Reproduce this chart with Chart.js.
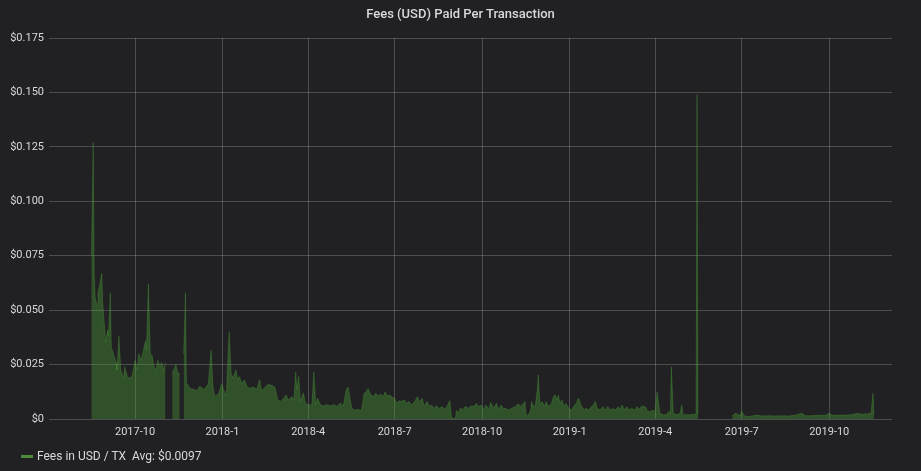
<!DOCTYPE html>
<html>
<head>
<meta charset="utf-8">
<script src="https://cdn.jsdelivr.net/npm/chart.js@4.4.1/dist/chart.umd.min.js"></script>
<style>
  html, body { margin:0; padding:0; background:#212124; }
  #wrap { position:relative; width:921px; height:471px; background:#212124; overflow:hidden; }
  #title { position:absolute; left:0; top:6px; width:921px; text-align:center; font:500 13px Roboto, sans-serif; color:#d8d9da; }
  #legend { position:absolute; left:21px; top:449px; font:12px Roboto, sans-serif; color:#d8d9da; display:flex; align-items:center; }
  #legend .sw { width:12px; height:3px; background:#4f8a3b; margin-right:4px; }
  #cv { position:absolute; left:0; top:0; }
</style>
</head>
<body>
<div id="wrap">
  <canvas id="cv" width="921" height="471"></canvas>
  <div id="title">Fees (USD) Paid Per Transaction</div>
  <div id="legend"><span class="sw"></span><span>Fees in USD / TX&nbsp;&nbsp;Avg: $0.0097</span></div>
</div>
<script>
// Day offsets relative to 2017-10-01
const days = [
  -46,-45,-44,-43,-42,-40,-39,-37,-35,-34,
  -32,-31,-29,-28,-26,-25,-22,-20,-19,-17,
  -15,-12,-11,-8,-5,-3,0,2,4,6,
  8,11,12,14,16,18,20,22,24,26,
  28,30,32,35,39,41,43,45,47,49,
  51,52,53,54,58,61,65,68,72,75,
  77,80,82,84,88,91,93,96,97,99,
  101,103,106,108,110,112,115,118,121,124,
  128,131,133,137,140,144,147,150,153,156,
  159,161,165,167,169,170,172,174,177,179,
  182,186,188,190,192,195,198,202,205,209,
  212,216,219,222,224,226,228,231,235,238,
  241,243,245,248,251,253,256,258,261,263,
  265,268,271,273,275,278,280,283,286,288,
  291,294,297,299,302,304,307,310,312,314,
  317,320,323,325,328,331,332,333,337,338,
  340,342,345,347,351,353,356,359,361,364,
  366,369,372,374,377,380,382,385,387,389,
  393,396,400,403,405,407,410,411,413,416,
  417,419,421,423,424,425,426,428,431,432,
  435,438,440,442,444,445,447,449,451,453,
  456,459,461,464,466,467,469,472,474,477,
  480,482,484,486,489,492,494,497,500,502,
  505,508,510,512,515,517,520,522,525,528,
  530,533,537,539,542,545,547,549,550,552,
  556,559,561,563,564,566,570,573,575,576,
  580,584,587,590,591,592,600,628,631,634,
  636,638,640,643,649,654,659,666,673,680,
  687,694,701,705,712,719,726,730,733,740,
  747,754,759,764,770,774,776,777
];
const fees = [
  0.075,0.099,0.127,0.067,0.056,0.052,0.058,0.062,0.067,0.053,
  0.042,0.035,0.041,0.038,0.058,0.033,0.029,0.026,0.0225,0.038,
  0.0225,0.0187,0.024,0.0194,0.0187,0.020,0.027,0.0225,0.030,0.027,
  0.030,0.036,0.032,0.062,0.030,0.029,0.024,0.0225,0.027,0.024,
  0.026,0.0225,0.026,null,0.021,0.023,0.025,0.021,0.021,null,
  0.030,0.042,0.058,0.0165,0.014,0.0137,0.013,0.015,0.0137,0.0147,
  0.0163,0.0317,0.0147,0.0103,0.0116,0.0163,0.0137,0.0103,0.0225,0.040,
  0.021,0.0187,0.0225,0.018,0.0195,0.0163,0.018,0.0147,0.014,0.0147,
  0.0137,0.018,0.013,0.0147,0.0158,0.0155,0.0147,0.0087,0.008,0.0095,
  0.011,0.0087,0.0103,0.0087,0.0217,0.0137,0.0195,0.008,0.012,0.0074,
  0.0066,0.0066,0.0217,0.0066,0.0095,0.0066,0.006,0.0066,0.006,0.0066,
  0.0058,0.0074,0.006,0.0133,0.0147,0.0095,0.0049,0.0041,0.0044,0.0038,
  0.0118,0.0125,0.014,0.011,0.0103,0.0118,0.0106,0.0115,0.0103,0.0125,
  0.0106,0.011,0.0099,0.0095,0.0072,0.0084,0.008,0.0087,0.0072,0.008,
  0.0064,0.008,0.0103,0.0078,0.0095,0.0057,0.008,0.0057,0.0064,0.0049,
  0.006,0.0049,0.0057,0.0044,0.0057,0.0084,0.004,0.0003,0.0003,0.004,
  0.0026,0.0049,0.0044,0.0057,0.0049,0.006,0.0057,0.0072,0.0057,0.0064,
  0.0044,0.0064,0.0044,0.0076,0.0049,0.0072,0.0044,0.0064,0.0049,0.0049,
  0.0041,0.0049,0.0057,0.007,0.0057,0.0064,0.008,0.0026,0.0011,0.004,
  0.008,0.0057,0.0064,0.0133,0.0202,0.0118,0.0064,0.008,0.0057,0.008,
  0.0057,0.0072,0.0103,0.011,0.0087,0.011,0.0072,0.0087,0.0057,0.0072,
  0.0049,0.0041,0.0057,0.0072,0.0095,0.009,0.0064,0.0041,0.0049,0.0041,
  0.0057,0.0064,0.008,0.0049,0.0041,0.0057,0.0041,0.0057,0.0041,0.0049,
  0.0041,0.0057,0.0041,0.0064,0.0041,0.0057,0.0041,0.0049,0.0041,0.0057,
  0.0044,0.006,0.0055,0.0035,0.0035,0.004,0.0035,0.0125,0.009,0.0025,
  0.002,0.002,0.0035,0.0025,0.024,0.0025,0.002,0.0025,0.0064,0.002,
  0.002,0.002,0.0022,0.0022,0.149,0.0022,null,0.0014,0.0026,0.0022,
  0.0014,0.0038,0.0018,0.001,0.0014,0.0018,0.0014,0.0015,0.0014,0.0015,
  0.0014,0.0017,0.0026,0.0015,0.0015,0.0017,0.0017,0.0026,0.0018,0.0017,
  0.0018,0.002,0.0026,0.0022,0.0024,0.0026,0.0118,0.002
];
const xTickDays = [0, 92, 182, 273, 365, 457, 547, 638, 730];
const xTickLabels = ['2017-10','2018-1','2018-4','2018-7','2018-10','2019-1','2019-4','2019-7','2019-10'];
const yTickValues = [0, 0.025, 0.05, 0.075, 0.1, 0.125, 0.15, 0.175];
const yTickLabels = ['$0','$0.025','$0.050','$0.075','$0.100','$0.125','$0.150','$0.175'];

const points = days.map((d, i) => ({ x: d, y: fees[i] }));
const gridColor = 'rgba(255,255,255,0.2)';
const tickFont = { family: 'Roboto', size: 11 };

new Chart(document.getElementById('cv'), {
  type: 'line',
  data: {
    datasets: [{
      label: 'Fees in USD / TX',
      data: points,
      borderColor: 'rgba(80,165,55,0.3)',
      backgroundColor: 'rgba(78,165,52,0.36)',
      borderWidth: 1,
      pointRadius: 0,
      fill: 'origin',
      tension: 0,
      spanGaps: false
    }]
  },
  options: {
    responsive: false,
    animation: false,
    events: [],
    layout: { padding: { left: 0, right: 29, top: 38, bottom: 0 } },
    plugins: { legend: { display: false }, title: { display: false }, tooltip: { enabled: false } },
    scales: {
      x: {
        type: 'linear',
        min: -90.5,
        max: 796,
        afterBuildTicks: (s) => { s.ticks = xTickDays.map(v => ({ value: v })); },
        afterFit: (s) => { s.height = 52; },
        ticks: {
          color: '#d8d9da', font: tickFont, padding: 7, maxRotation: 0, autoSkip: false,
          callback: (v) => { const i = xTickDays.indexOf(v); return i >= 0 ? xTickLabels[i] : ''; }
        },
        grid: { color: gridColor, drawTicks: false },
        border: { display: false }
      },
      y: {
        min: 0,
        max: 0.175,
        afterBuildTicks: (s) => { s.ticks = yTickValues.map(v => ({ value: v })); },
        afterFit: (s) => { s.width = 49; },
        ticks: {
          color: '#d8d9da', font: tickFont, padding: 5,
          callback: (v) => { const i = yTickValues.findIndex(t => Math.abs(t - v) < 1e-9); return i >= 0 ? yTickLabels[i] : ''; }
        },
        grid: { color: gridColor, drawTicks: false },
        border: { display: false }
      }
    }
  }
});
</script>
</body>
</html>
